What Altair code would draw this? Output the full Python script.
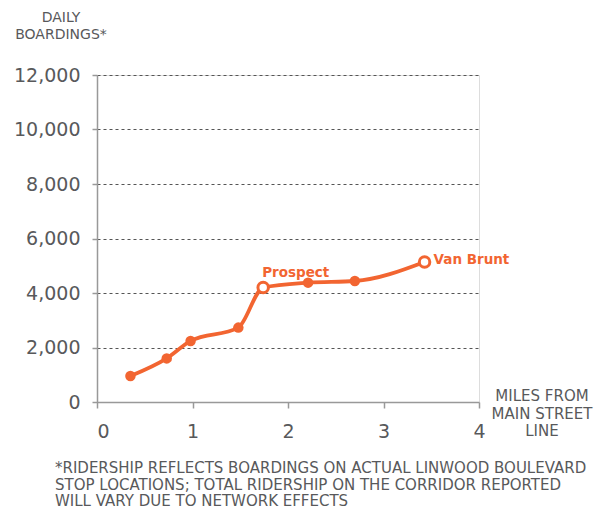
import altair as alt
import pandas as pd

miles = [0.35, 0.73, 0.98, 1.48, 1.74, 2.21, 2.70, 3.43]
boardings = [954, 1600, 2240, 2730, 4200, 4380, 4440, 5140]
hollow = [False, False, False, False, True, False, False, True]
labels = ["", "", "", "", "Prospect", "", "", "Van Brunt"]

y_ticks = [0, 2000, 4000, 6000, 8000, 10000, 12000]
x_ticks = [0, 1, 2, 3, 4]
y_title = ["DAILY", "BOARDINGS*"]
x_title = ["MILES  FROM", "MAIN STREET", "LINE"]
footnote = ["*RIDERSHIP REFLECTS BOARDINGS ON ACTUAL LINWOOD BOULEVARD",
            "STOP LOCATIONS; TOTAL RIDERSHIP ON THE CORRIDOR REPORTED",
            "WILL VARY DUE TO NETWORK EFFECTS"]

ORANGE = "#f26531"
GREY = "#58595b"
FONT = "DejaVu Sans"

df = pd.DataFrame({"miles": miles, "boardings": boardings,
                   "hollow": hollow, "label": labels})

xs = alt.Scale(domain=[0, 4], nice=False)
ys = alt.Scale(domain=[0, 12000], nice=False)

base = alt.Chart(df)

line = base.mark_line(color=ORANGE, strokeWidth=3.8, interpolate="monotone").encode(
    x=alt.X("miles:Q", scale=xs, axis=alt.Axis(
        values=x_ticks, format="d", grid=False, tickSize=6, tickColor="#999",
        domainColor="#999", domainWidth=1.5, tickWidth=1.5, labelFontSize=19,
        labelFont=FONT, labelColor=GREY, labelPadding=14, title=None,
        labelFlush=False,
        labelAlign=alt.ExprRef(expr="datum.value == 0 ? 'left' : 'center'"))),
    y=alt.Y("boardings:Q", scale=ys, axis=alt.Axis(
        values=y_ticks, format=",.0f", grid=True, gridDash=[3, 3], gridColor="#555",
        gridWidth=1.2, tickSize=5, tickColor="#999", domainColor="#999",
        domainWidth=1.5, tickWidth=1.5, labelFontSize=19, labelFont=FONT,
        labelColor=GREY, labelPadding=12, title=None)),
)

filled = base.transform_filter("!datum.hollow").mark_circle(
    color=ORANGE, size=110, opacity=1).encode(x=alt.X("miles:Q", scale=xs), y=alt.Y("boardings:Q", scale=ys))

open_pts = base.transform_filter("datum.hollow").mark_point(
    shape="circle", filled=True, fill="white", stroke=ORANGE, strokeWidth=3,
    size=110, opacity=1).encode(x=alt.X("miles:Q", scale=xs), y=alt.Y("boardings:Q", scale=ys))

lab_df = df[df["label"] != ""]
prospect = alt.Chart(lab_df[lab_df["label"] == "Prospect"]).mark_text(
    color=ORANGE, fontWeight="bold", fontSize=13.5, font=FONT, align="left",
    baseline="alphabetic", dx=-1, dy=-11).encode(
    x=alt.X("miles:Q", scale=xs), y=alt.Y("boardings:Q", scale=ys), text="label:N")
vanbrunt = alt.Chart(lab_df[lab_df["label"] == "Van Brunt"]).mark_text(
    color=ORANGE, fontWeight="bold", fontSize=13.5, font=FONT, align="left",
    baseline="middle", dx=9, dy=-2).encode(
    x=alt.X("miles:Q", scale=xs), y=alt.Y("boardings:Q", scale=ys), text="label:N")

ytitle = alt.Chart(pd.DataFrame({"t": ["\n".join(y_title)]})).mark_text(
    font=FONT, fontSize=14, color=GREY, align="center", baseline="top",
    lineBreak="\n", lineHeight=17).encode(
    x=alt.value(-36), y=alt.value(-64), text="t:N")

xtitle = alt.Chart(pd.DataFrame({"t": ["\n".join(x_title)]})).mark_text(
    font=FONT, fontSize=15, color=GREY, align="center", baseline="top",
    lineBreak="\n", lineHeight=17.5).encode(
    x=alt.value(445), y=alt.value(314), text="t:N")

foot = alt.Chart(pd.DataFrame({"t": ["\n".join(footnote)]})).mark_text(
    font=FONT, fontSize=15, color=GREY, align="left", baseline="top",
    lineBreak="\n", lineHeight=16.5).encode(
    x=alt.value(-42), y=alt.value(386), text="t:N")

chart = alt.layer(line, filled, open_pts, prospect, vanbrunt, ytitle, xtitle, foot).properties(
    width=382, height=327,
    autosize=alt.AutoSizeParams(type="none"),
    padding={"left": 97, "top": 75, "right": 125, "bottom": 110},
).configure_view(stroke=None).configure(background="white")

chart.save("out.html", embed_options={"renderer": "svg", "actions": False})
